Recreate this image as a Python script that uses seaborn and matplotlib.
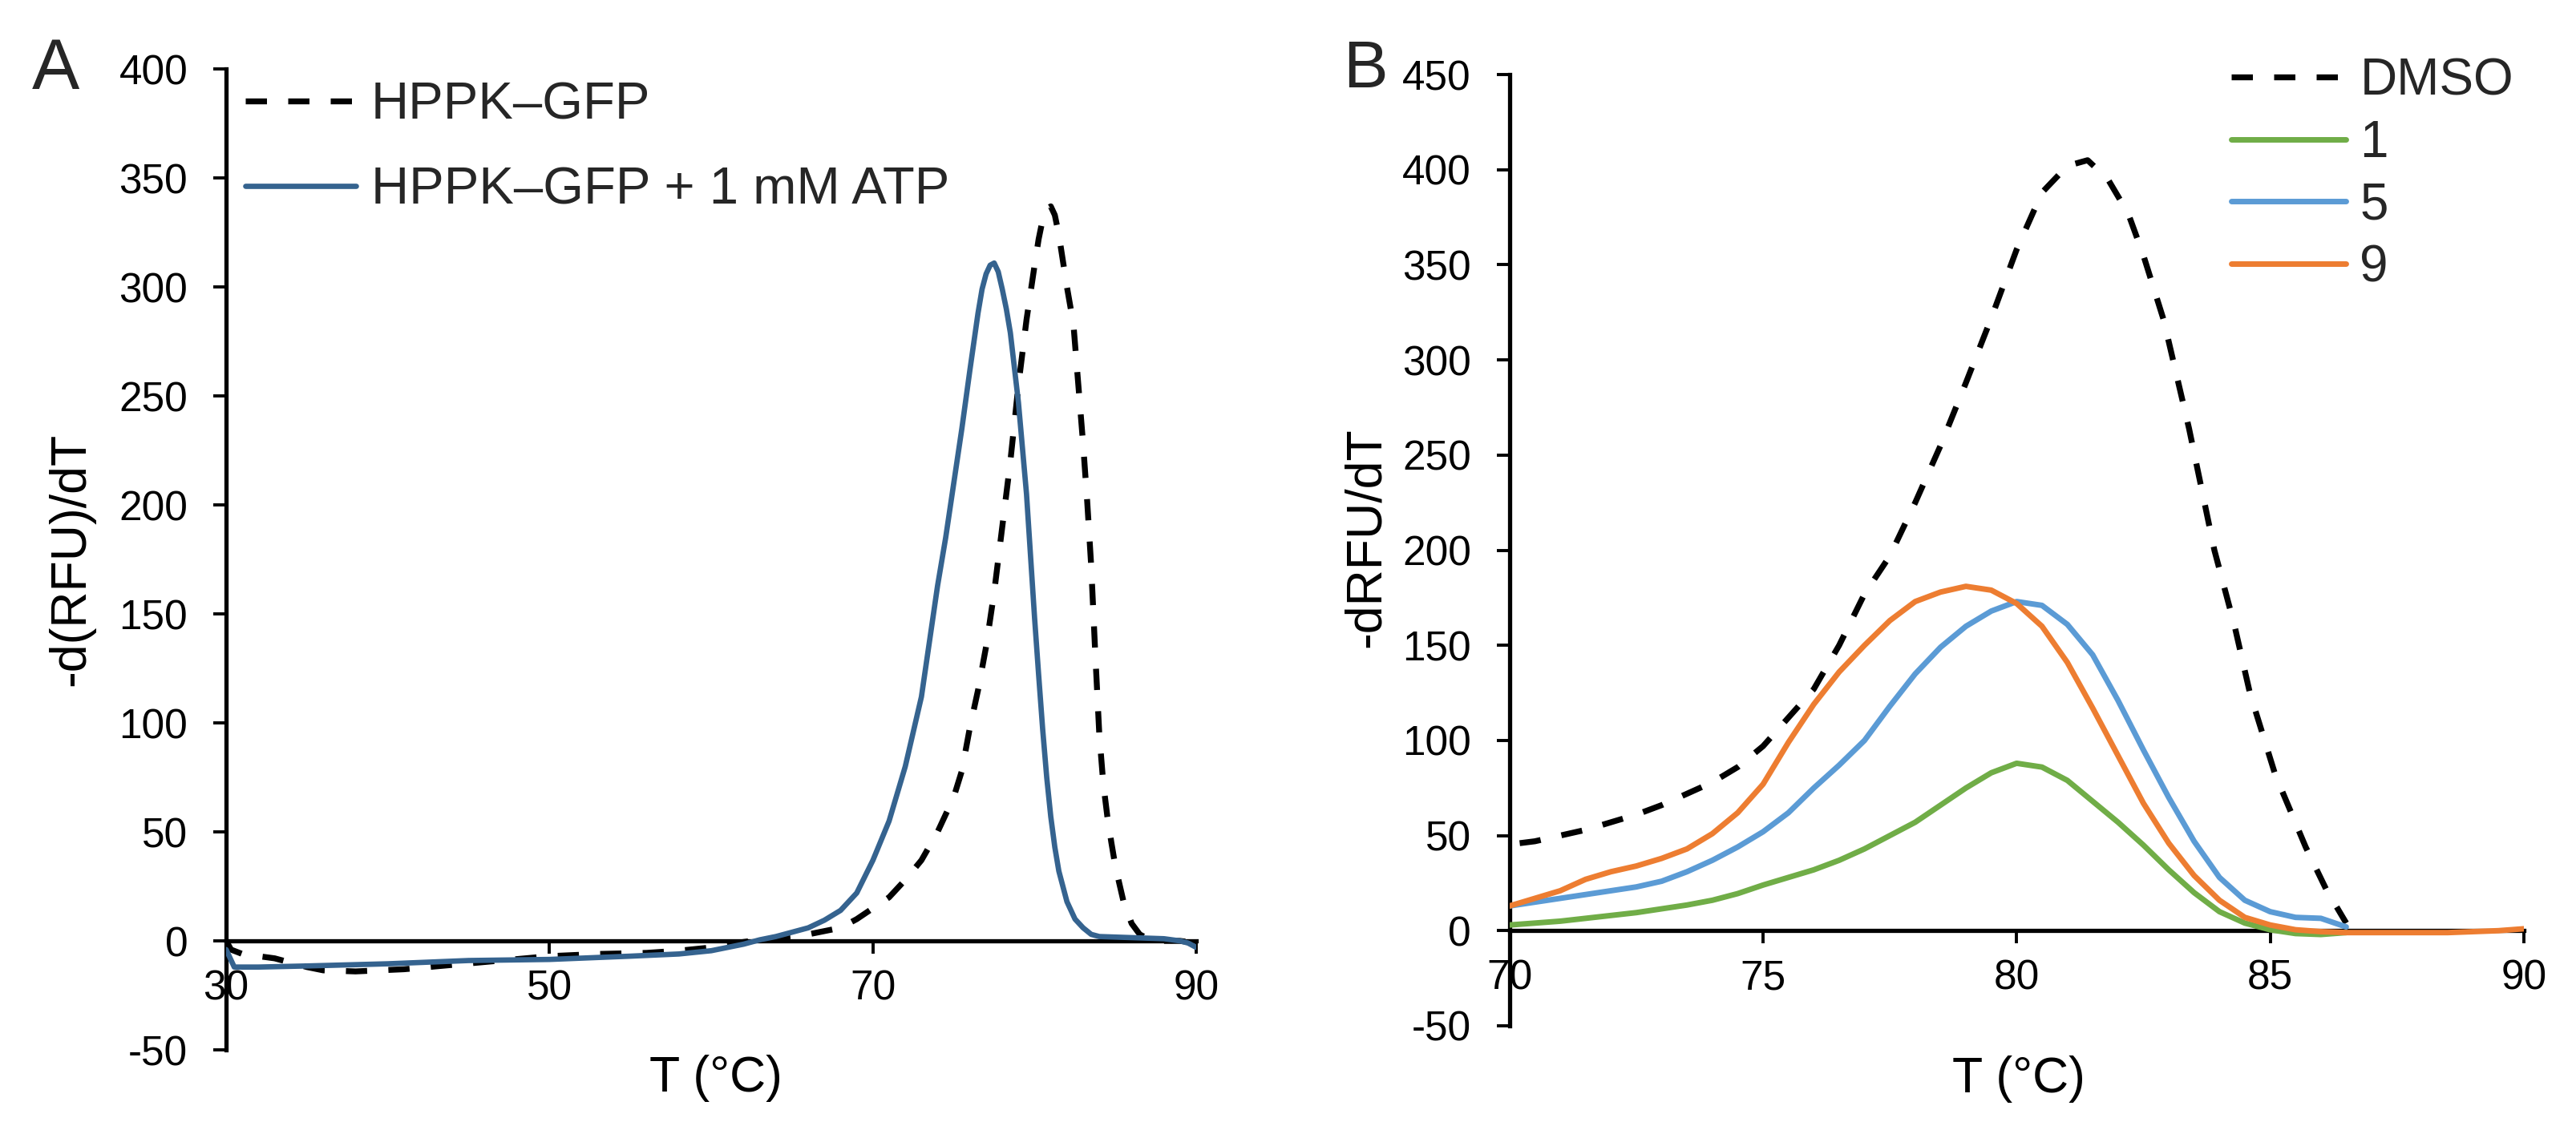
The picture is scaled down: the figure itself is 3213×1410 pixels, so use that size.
import seaborn as sns
import matplotlib.pyplot as plt

# Panel A: HPPK-GFP melt curves
a_gfp_t = [30, 30.3, 31, 33, 35, 36, 38, 41, 44, 47,
           50, 53, 56, 58, 60, 62, 64, 66, 67, 68,
           69, 70, 71, 72, 73, 74, 75, 75.5, 76, 76.5,
           77, 77.5, 78, 78.5, 79, 79.5, 80, 80.25, 80.5, 80.75,
           81, 81.25, 81.5, 81.75, 82, 82.4, 83, 83.25, 83.5, 83.75,
           84, 84.25, 84.5, 84.75, 85, 85.5, 86, 86.5, 87, 88,
           89, 90]
a_gfp = [0, -4, -6, -8, -12, -13.5, -14, -13, -11, -9,
         -7, -6, -5.5, -4.5, -3, -0.5, 1.5, 3, 4.5, 6,
         10, 15, 20, 28, 37, 50, 66, 78, 98, 115,
         135, 160, 190, 220, 255, 285, 310, 322, 331, 336,
         337, 333, 324, 312, 300, 283, 228, 202, 172, 132,
         95, 72, 57, 45, 34, 18, 8, 3, 1, 0,
         0, -1]

a_atp_t = [30, 30.5, 32, 35, 40, 45, 50, 55, 58, 60,
           62, 63, 64, 65, 66, 67, 68, 69, 70, 71,
           72, 73, 74, 74.5, 75, 75.5, 76, 76.5, 76.75, 77,
           77.25, 77.5, 77.75, 78, 78.25, 78.5, 79, 79.5, 80, 80.25,
           80.5, 80.75, 81, 81.25, 81.5, 82, 82.5, 83, 83.5, 84,
           86, 88, 89, 89.5, 90]
a_atp = [-4, -12, -12, -11.5, -10.5, -9, -8.5, -7, -6, -4.5,
         -1.5, 0.5, 2, 4, 6, 9.5, 14, 22, 37, 55,
         80, 112, 163, 185, 210, 235, 262, 288, 299, 306,
         310, 311, 307, 299, 290, 279, 247, 205, 148, 122,
         97, 75, 57, 43, 32, 18, 10, 6, 3, 2,
         1.5, 1, 0, -1, -3]

# Panel B: DMSO and compounds 1, 5, 9
b_dmso_t = [70.2, 70.5, 71, 71.5, 72, 72.5, 73, 73.5, 74, 74.5,
            75, 75.5, 76, 76.5, 77, 77.5, 78, 78.5, 79, 79.5,
            80, 80.5, 81, 81.4, 81.8, 82.2, 82.5, 82.9, 83.4, 83.9,
            84.3, 84.6, 85.1, 85.7, 86.1, 86.5]
b_dmso = [46, 47, 50, 53, 57, 61, 66, 72, 78, 86,
          97, 112, 127, 150, 177, 197, 225, 255, 288, 322,
          358, 388, 402, 405, 395, 377, 355, 321, 264, 200,
          160, 125, 82, 44, 22, 4]

b_t = [70, 70.5, 71, 71.5, 72, 72.5, 73, 73.5, 74, 74.5,
       75, 75.5, 76, 76.5, 77, 77.5, 78, 78.5, 79, 79.5,
       80, 80.5, 81, 81.5, 82, 82.5, 83, 83.5, 84, 84.5,
       85, 85.5, 86, 86.5]
b_c1 = [3, 4, 5, 6.5, 8, 9.5, 11.5, 13.5, 16, 19.5,
        24, 28, 32, 37, 43, 50, 57, 66, 75, 83,
        88, 86, 79, 68, 57, 45, 32, 20, 10, 4,
        0.5, -1.5, -2, -1]
b_c5 = [13, 15, 17, 19, 21, 23, 26, 31, 37, 44,
        52, 62, 75, 87, 100, 118, 135, 149, 160, 168,
        173, 171, 161, 145, 121, 95, 70, 47, 28, 16,
        10, 7, 6.5, 2]

b_c9_t = [70, 70.5, 71, 71.5, 72, 72.5, 73, 73.5, 74, 74.5,
          75, 75.5, 76, 76.5, 77, 77.5, 78, 78.5, 79, 79.5,
          80, 80.5, 81, 81.5, 82, 82.5, 83, 83.5, 84, 84.5,
          85, 85.5, 86, 86.5, 87, 87.5, 88, 88.5, 89, 89.5, 90]
b_c9 = [13, 17, 21, 27, 31, 34, 38, 43, 51, 62,
        77, 99, 119, 136, 150, 163, 173, 178, 181, 179,
        172, 160, 141, 117, 92, 67, 46, 29, 16, 7,
        3, 0.5, -0.5, -1, -1, -1, -1, -1, -0.5, 0, 1]

sns.set_theme(style="white")
plt.rcParams['font.family'] = ['Liberation Sans', 'DejaVu Sans']
plt.rcParams['axes.unicode_minus'] = False

fig = plt.figure(figsize=(32.13, 14.10), dpi=100)
axA = fig.add_axes([0.0878, 0.0709, 0.3766, 0.868])
axB = fig.add_axes([0.586, 0.0922, 0.3937, 0.8418])

dash = (0, (3.6, 3.6))

sns.lineplot(x=a_gfp_t, y=a_gfp, ax=axA, color="black", linewidth=5.3,
             linestyle=dash, label="HPPK\u2013GFP", sort=False)
sns.lineplot(x=a_atp_t, y=a_atp, ax=axA, color="#35638f", linewidth=4.8,
             label="HPPK\u2013GFP + 1 mM ATP", sort=False)

sns.lineplot(x=b_dmso_t, y=b_dmso, ax=axB, color="black", linewidth=5.3,
             linestyle=dash, label="DMSO", sort=False)
sns.lineplot(x=b_t, y=b_c1, ax=axB, color="#70ad47", linewidth=5.0, label="1", sort=False)
sns.lineplot(x=b_t, y=b_c5, ax=axB, color="#5b9bd5", linewidth=5.0, label="5", sort=False)
sns.lineplot(x=b_c9_t, y=b_c9, ax=axB, color="#ed7d31", linewidth=5.0, label="9", sort=False)

settings = [
    (axA, (30, 90), [30, 50, 70, 90], (-50, 400), list(range(-50, 401, 50)),
     "-d(RFU)/dT", -0.160, 0.5, 0.505, -0.029),
    (axB, (70, 90), [70, 75, 80, 85, 90], (-50, 450), list(range(-50, 451, 50)),
     "-dRFU/dT", -0.1415, 0.513, 0.502, -0.056),
]
for ax, xl, xt, yl, yt, ylab, ylx, yly, xlx, xly in settings:
    ax.set_xlim(*xl)
    ax.set_ylim(*yl)
    ax.set_xticks(xt)
    ax.set_yticks(yt)
    ax.spines['top'].set_visible(False)
    ax.spines['right'].set_visible(False)
    ax.spines['bottom'].set_position(('data', 0))
    for s in ('left', 'bottom'):
        ax.spines[s].set_color('black')
        ax.spines[s].set_linewidth(3.8)
        ax.spines[s].set_zorder(1.5)
    ax.tick_params(axis='x', direction='out', length=11.5, width=2.8, pad=14,
                   labelsize=37, colors='black', bottom=True)
    ax.tick_params(axis='y', direction='out', length=11.5, width=2.8, pad=23,
                   labelsize=37, colors='black', left=True)
    ax.set_ylabel(ylab, fontsize=45, color='black')
    ax.yaxis.set_label_coords(ylx, yly)
    ax.yaxis.label.set_va('center')
    ax.set_xlabel("T (\u00b0C)", fontsize=45, color='black')
    ax.xaxis.set_label_coords(xlx, xly)
    ax.xaxis.label.set_va('center')
    ax.grid(False)
    ax.patch.set_visible(False)

axA.legend(loc='upper left', bbox_to_anchor=(0.0952, 0.928),
           bbox_transform=fig.transFigure, frameon=False, fontsize=47,
           handlelength=2.12, handletextpad=0.28, labelspacing=0.71,
           borderpad=0, borderaxespad=0)
axB.legend(loc='upper left', bbox_to_anchor=(0.8662, 0.9496),
           bbox_transform=fig.transFigure, frameon=False, fontsize=46,
           handlelength=2.23, handletextpad=0.28, labelspacing=0.28,
           borderpad=0, borderaxespad=0)

fig.text(0.0125, 0.921, "A", fontsize=64, ha='left', va='baseline')
fig.text(0.5215, 0.923, "B", fontsize=60, ha='left', va='baseline')

fig.savefig("out.png", dpi=100)
